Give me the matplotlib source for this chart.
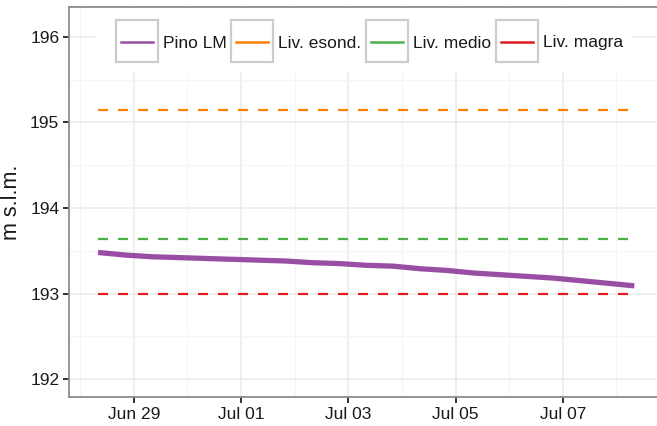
import matplotlib
matplotlib.use("Agg")
import matplotlib.pyplot as plt
import matplotlib.dates as mdates
from matplotlib.patches import Rectangle
from matplotlib.lines import Line2D
import numpy as np
import pandas as pd

plt.rcParams['font.family'] = ['Liberation Sans', 'DejaVu Sans']

# ---- data ----
times = pd.date_range("2020-06-28 08:00", "2020-07-08 08:00", freq="12h")
pino_lm = [193.48, 193.45, 193.43, 193.42, 193.41, 193.40, 193.39, 193.38,
           193.36, 193.35, 193.33, 193.32, 193.29, 193.27, 193.24, 193.22,
           193.20, 193.18, 193.15, 193.12, 193.09]
liv_esond = 195.15
liv_medio = 193.64
liv_magra = 192.99

series_names = ["Pino LM", "Liv. esond.", "Liv. medio", "Liv. magra"]
series_colors = ["#984EA3", "#FF7F00", "#4DAF4A", "#E41A1C"]
y_label = "m s.l.m."

W, H = 657, 426
fig = plt.figure(figsize=(W / 100, H / 100), dpi=100)
left, right, top, bottom = 69, 660, 7, 397
ax = fig.add_axes([left / W, 1 - bottom / H, (right - left) / W, (bottom - top) / H])

ax.plot(times, pino_lm, color=series_colors[0], lw=3.8, solid_capstyle='butt', zorder=3)
for val, col in zip([liv_esond, liv_medio, liv_magra], series_colors[1:]):
    ax.plot([times[0], times[-1]], [val, val], color=col, lw=1.6,
            dashes=(4.5, 4.5), zorder=3)

ax.set_ylim(191.79, 196.35)
ax.set_xlim(pd.Timestamp("2020-06-27 19:00"), pd.Timestamp("2020-07-08 19:30"))

ax.yaxis.set_major_locator(plt.FixedLocator([192, 193, 194, 195, 196]))
ax.yaxis.set_minor_locator(plt.FixedLocator([192.5, 193.5, 194.5, 195.5]))
ax.xaxis.set_major_locator(mdates.DayLocator(bymonthday=[29, 1, 3, 5, 7]))
ax.xaxis.set_major_formatter(mdates.DateFormatter("%b %d"))
ax.xaxis.set_minor_locator(mdates.DayLocator(bymonthday=[28, 30, 2, 4, 6, 8]))

ax.grid(which='major', color='#EBEBEB', lw=1.1, zorder=0)
ax.grid(which='minor', color='#F5F5F5', lw=0.8, zorder=0)
ax.set_axisbelow(True)

for s in ax.spines.values():
    s.set_color('#8C8C8C')
    s.set_linewidth(1.3)
ax.tick_params(which='major', length=4, width=1.3, color='#222222',
               labelsize=12.5, labelcolor='#1A1A1A', pad=3)
ax.tick_params(which='minor', length=0)
ax.set_ylabel(y_label, fontsize=15.5, labelpad=6, color='#1A1A1A')

# legend (ggplot-like keys)
def fx(px):
    return px / W
def fy(py):
    return 1 - py / H

fig.patches.append(Rectangle((fx(95), fy(72)), fx(633) - fx(95), fy(8) - fy(72),
                             transform=fig.transFigure, facecolor='white',
                             edgecolor='none', zorder=5))
key_x = [116, 231, 366, 496]
for name, col, kx in zip(series_names, series_colors, key_x):
    fig.patches.append(Rectangle((fx(kx), fy(62)), fx(kx + 42) - fx(kx), fy(20) - fy(62),
                                 transform=fig.transFigure, facecolor='white',
                                 edgecolor='#CCCCCC', lw=1.6, zorder=6))
    fig.lines.append(Line2D([fx(kx + 5), fx(kx + 37)], [fy(42), fy(42)],
                            transform=fig.transFigure, color=col, lw=1.8, zorder=7))
    fig.text(fx(kx + 47), fy(43), name, fontsize=12.5, color='#1A1A1A',
             va='center', ha='left', zorder=7)

fig.savefig("out.png", dpi=100, facecolor='white')
